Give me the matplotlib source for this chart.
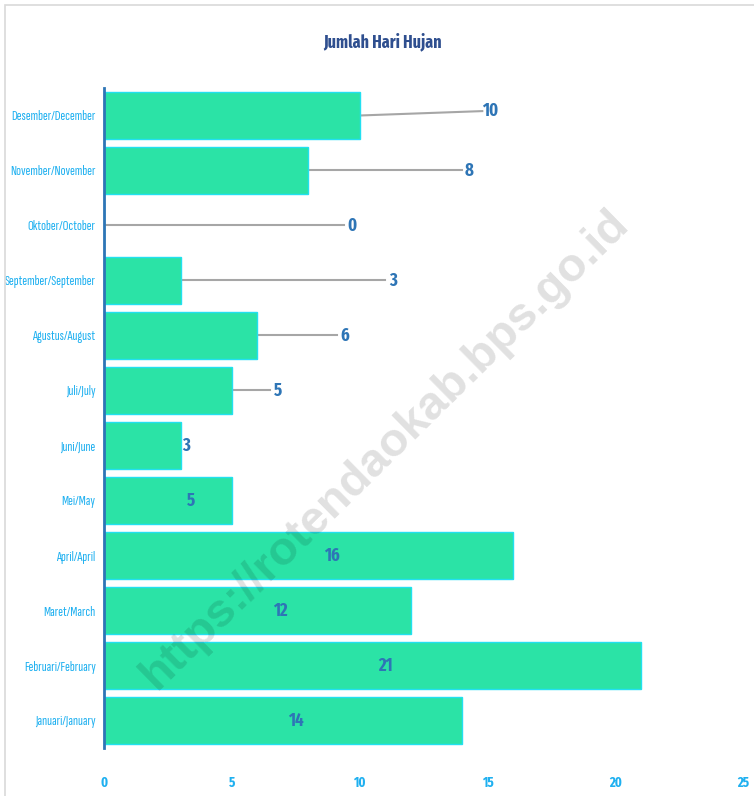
import matplotlib
matplotlib.use("Agg")
import matplotlib.pyplot as plt
from matplotlib.patches import Rectangle

months = ["Januari/January", "Februari/February", "Maret/March", "April/April",
          "Mei/May", "Juni/June", "Juli/July", "Agustus/August",
          "September/September", "Oktober/October", "November/November",
          "Desember/December"]
rain_days = [14, 21, 12, 16, 5, 3, 5, 6, 3, 0, 8, 10]
label_x = [7.5, 11.0, 6.9, 8.9, 3.4, 3.2, 6.8, 9.4, 11.3, 9.7, 14.3, 15.1]
label_dy = [0, 0, 0, 0, 0, 0, 0, 0, 0, 0, 0, 0.08]
x_ticks = [0, 5, 10, 15, 20, 25]

FONT = ["Sofia Sans Extra Condensed", "DejaVu Sans"]
BOLD = ["Fira Sans Extra Condensed", "DejaVu Sans"]
plt.rcParams["font.family"] = FONT

fig = plt.figure(figsize=(7.54, 7.96), dpi=100)
fig.patches.append(Rectangle((0.007, -0.01), 1.1, 1.004, transform=fig.transFigure,
                             fill=False, edgecolor="#d9d9d9", linewidth=1.2))
ax = fig.add_axes([104/754, 48/796, (743-104)/754, (708-48)/796])

y = list(range(len(months)))
ax.barh(y, rain_days, height=0.85, color="#2BE3A6", edgecolor="#22E0F0", linewidth=1.0, zorder=2)

for i, (v, lx, dy) in enumerate(zip(rain_days, label_x, label_dy)):
    inside = lx < v
    if not inside and lx - v > 0.5:
        ax.plot([v, lx - 0.3], [i, i + dy], color="#a6a6a6", linewidth=1.5, zorder=1)
    ax.text(lx, i + dy, str(v), ha="center", va="center", fontsize=13, fontweight="bold",
            color="#2E75B6", zorder=3, family=BOLD)

ax.set_xlim(0, 25)
ax.set_ylim(-0.5, len(months) - 0.5)
ax.set_yticks(y)
ax.set_yticklabels(months, fontsize=10.5, color="#1FB0F0")
ax.set_xticks(x_ticks)
ax.set_xticklabels([str(t) for t in x_ticks], fontsize=10, color="#1FB0F0",
                   fontweight="bold", family=BOLD)
ax.tick_params(axis="both", length=0)
ax.tick_params(axis="x", pad=20)
ax.tick_params(axis="y", pad=6)
for s in ["top", "right", "bottom"]:
    ax.spines[s].set_visible(False)
ax.spines["left"].set_color("#2E75B6")
ax.spines["left"].set_linewidth(2)

fig.text(383/754, 1 - 42/796, "Jumlah Hari Hujan", ha="center", va="center",
         fontsize=12.5, fontweight="bold", color="#2F4F8F", family=BOLD)

fig.text(385/754, 1 - 450/796, "https://rotendaokab.bps.go.id", ha="center", va="center",
         rotation=44.5, fontsize=34, fontweight="bold", color="#000000", alpha=0.12,
         family=["Liberation Sans"])

fig.savefig("out.png", dpi=100)
